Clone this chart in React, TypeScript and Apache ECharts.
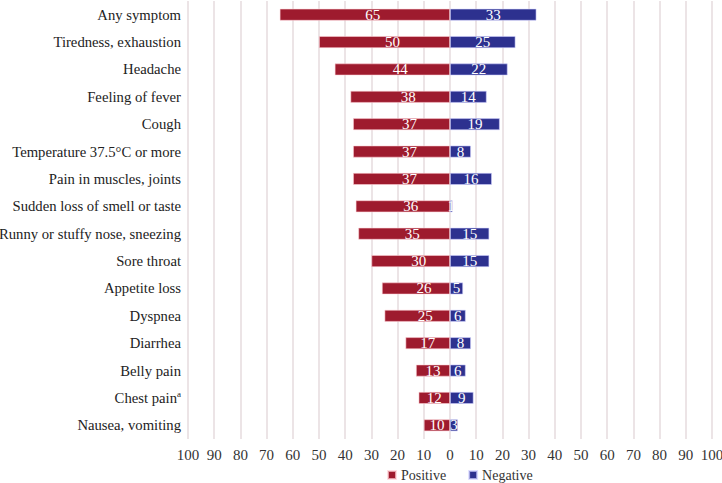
import React, { useEffect, useRef } from "react";
import * as echarts from "echarts";

const categories = [
  "Any symptom",
  "Tiredness, exhaustion",
  "Headache",
  "Feeling of fever",
  "Cough",
  "Temperature 37.5°C or more",
  "Pain in muscles, joints",
  "Sudden loss of smell or taste",
  "Runny or stuffy nose, sneezing",
  "Sore throat",
  "Appetite loss",
  "Dyspnea",
  "Diarrhea",
  "Belly pain",
  "Chest pain",
  "Nausea, vomiting",
];
const footnoted = ["Chest pain"];
const positiveValues = [65, 50, 44, 38, 37, 37, 37, 36, 35, 30, 26, 25, 17, 13, 12, 10];
const negativeValues = [33, 25, 22, 14, 19, 8, 16, 1, 15, 15, 5, 6, 8, 6, 9, 3];
const xMin = -100;
const xMax = 100;
const xInterval = 10;

const FONT = "Liberation Serif";

export default function App() {
  const ref = useRef<HTMLDivElement>(null);
  useEffect(() => {
    if (!ref.current) return;
    const chart = echarts.init(ref.current, null, { renderer: "svg" });
    chart.setOption({
      animation: false,
      backgroundColor: "#ffffff",
      textStyle: { fontFamily: FONT },
      legend: {
        top: 468,
        left: 387,
        padding: 0,
        icon: "rect",
        itemWidth: 8,
        itemHeight: 8,
        itemGap: 22,
        textStyle: { fontFamily: FONT, fontSize: 14, color: "#333" },
        data: ["Positive", "Negative"],
      },
      grid: {
        left: 188,
        right: 10,
        top: 1,
        bottom: 44,
        containLabel: false,
        outerBoundsMode: "none",
      },
      xAxis: {
        type: "value",
        min: xMin,
        max: xMax,
        interval: xInterval,
        axisLine: { show: false },
        axisTick: { show: false },
        axisLabel: {
          formatter: (v: number) => String(Math.abs(v)),
          fontFamily: FONT,
          fontSize: 15,
          color: "#333",
          margin: 8,
        },
        splitLine: { show: true, lineStyle: { color: "#e6dbde", width: 1.5 } },
      },
      yAxis: {
        type: "category",
        inverse: true,
        data: categories,
        axisLine: { show: false },
        axisTick: { show: false },
        axisLabel: {
          fontFamily: FONT,
          fontSize: 14.7,
          color: "#222",
          margin: 7,
          formatter: (v: string) => (footnoted.includes(v) ? v + "{sup|a}" : v),
          rich: {
            sup: { fontFamily: FONT, fontSize: 9, color: "#222", verticalAlign: "top", padding: [0, 0, 8, 0] },
          },
        },
      },
      series: [
        {
          name: "Positive",
          type: "bar",
          stack: "total",
          barWidth: 12,
          data: positiveValues.map((v) => ({
            value: -v,
            label: { offset: v < 20 ? [0, 0] : [8, 0] },
          })),
          itemStyle: { color: "#9e1b2e", borderColor: "rgba(255,210,215,0.7)", borderWidth: 0.8 },
          label: {
            show: true,
            position: "inside",
            color: "#fff",
            fontFamily: FONT,
            fontSize: 15,
            formatter: (p: any) => String(Math.abs(p.value)),
          },
        },
        {
          name: "Negative",
          type: "bar",
          stack: "total",
          barWidth: 12,
          data: negativeValues,
          itemStyle: { color: "#2d318f", borderColor: "rgba(210,210,255,0.7)", borderWidth: 0.8 },
          label: {
            show: true,
            position: "inside",
            color: "#fff",
            fontFamily: FONT,
            fontSize: 15,
          },
        },
      ],
    });
    return () => chart.dispose();
  }, []);
  return (
    <div
      ref={ref}
      style={{ position: "fixed", left: 0, top: 0, width: 722, height: 483, background: "#fff" }}
    />
  );
}
